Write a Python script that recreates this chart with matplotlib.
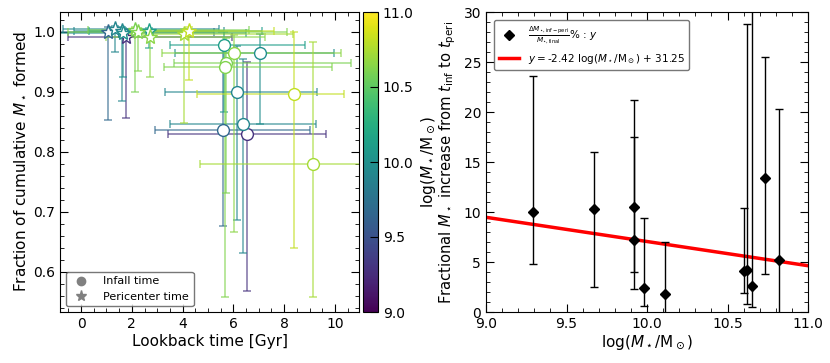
import numpy as np
import matplotlib
matplotlib.use("Agg")
import matplotlib.pyplot as plt
from matplotlib.lines import Line2D
from matplotlib.ticker import MultipleLocator

# ---------------- data ----------------
log_mass = [9.29, 9.67, 9.92, 9.92, 9.98, 10.11, 10.60, 10.62, 10.65, 10.73, 10.82]

# infall time (lookback Gyr) and cumulative fraction, with bounds
t_inf = [6.52, 5.60, 6.15, 6.38, 7.05, 5.65, 5.72, 5.68, 6.02, 9.13, 8.39]
t_inf_lo = [3.43, 2.92, 3.29, 3.52, 3.69, 3.52, 3.65, 3.28, 3.19, 4.68, 4.57]
t_inf_hi = [9.64, 9.03, 9.31, 9.25, 9.97, 8.83, 10.63, 9.87, 10.26, 11.6, 10.37]
f_inf = [0.830, 0.837, 0.8995, 0.847, 0.9655, 0.978, 0.948, 0.942, 0.9655, 0.780, 0.896]
f_inf_lo = [0.568, 0.677, 0.686, 0.632, 0.847, 0.867, 0.731, 0.558, 0.667, 0.558, 0.639]
f_inf_hi = [0.949, 0.975, 0.977, 0.955, 0.997, 0.999, 0.990, 0.985, 0.995, 0.983, 0.999]

# pericenter time and cumulative fraction, with bounds
t_peri = [1.78, 1.08, 1.32, 1.61, 1.66, 2.66, 2.13, 2.23, 2.70, 4.04, 4.24]
t_peri_lo = [-0.5, -0.83, -0.7, -0.28, -0.9, 0.3, 0.29, -0.5, 1.0, 1.5, 2.0]
t_peri_hi = [5.96, 5.23, 5.43, 5.62, 6.48, 7.14, 6.61, 8.13, 7.23, 8.36, 7.6]
f_peri = [0.991, 0.999, 1.005, 1.002, 0.998, 1.002, 1.003, 1.000, 0.991, 0.997, 1.002]
f_peri_lo = [0.856, 0.853, 0.967, 0.884, 0.925, 0.973, 0.900, 0.934, 0.925, 0.848, 0.920]
f_peri_hi = [1.005, 1.008, 1.010, 1.008, 1.006, 1.007, 1.008, 1.006, 1.000, 1.004, 1.008]

# right panel: fractional increase (%)
frac_inc = [10.03, 10.3, 10.53, 7.23, 2.37, 1.8, 4.13, 4.2, 2.63, 13.37, 5.23]
frac_lo = [4.77, 2.5, 3.97, 2.27, 0.6, -2.0, 1.93, 0.77, 0.5, 3.83, -1.0]
frac_hi = [23.6, 16.0, 21.2, 17.5, 9.37, 6.97, 10.37, 28.8, 32.0, 25.5, 20.3]

fit_slope = -2.42
fit_intercept = 31.25

# ---------------- figure ----------------
W, H = 830, 363
fig = plt.figure(figsize=(W / 100, H / 100), dpi=100)

def px_axes(x0, y0, x1, y1):
    return fig.add_axes([x0 / W, 1 - y1 / H, (x1 - x0) / W, (y1 - y0) / H])

ax1 = px_axes(60, 12, 359, 312)
cax = px_axes(363, 12, 378, 312)
ax2 = px_axes(486, 12, 808, 312)

cmap = plt.get_cmap("viridis")
norm = matplotlib.colors.Normalize(vmin=9.0, vmax=11.0)

def style_axes(ax):
    ax.tick_params(which="both", direction="in", top=True, right=True, labelsize=10)
    ax.tick_params(which="major", length=6)
    ax.tick_params(which="minor", length=3)

# ---- left panel ----
for i, m in enumerate(log_mass):
    c = cmap(norm(m))
    ec = (c[0], c[1], c[2], 0.7)
    ax1.errorbar(t_peri[i], f_peri[i],
                 xerr=[[t_peri[i] - t_peri_lo[i]], [t_peri_hi[i] - t_peri[i]]],
                 yerr=[[f_peri[i] - f_peri_lo[i]], [f_peri_hi[i] - f_peri[i]]],
                 fmt="none", ecolor=ec, elinewidth=1.1, capsize=3, capthick=1.1, zorder=2)
    ax1.errorbar(t_inf[i], f_inf[i],
                 xerr=[[t_inf[i] - t_inf_lo[i]], [t_inf_hi[i] - t_inf[i]]],
                 yerr=[[f_inf[i] - f_inf_lo[i]], [f_inf_hi[i] - f_inf[i]]],
                 fmt="none", ecolor=ec, elinewidth=1.1, capsize=3, capthick=1.1, zorder=2)

for i, m in enumerate(log_mass):
    c = cmap(norm(m))
    ax1.plot(t_peri[i], f_peri[i], marker="*", ms=11, mfc="white", mec=c, mew=1.0,
             linestyle="none", zorder=4)
    ax1.plot(t_inf[i], f_inf[i], marker="o", ms=8.5, mfc="white", mec=c, mew=1.0,
             linestyle="none", zorder=4)

ax1.set_xlim(-0.83, 10.95)
ax1.set_ylim(0.533, 1.033)
ax1.xaxis.set_major_locator(MultipleLocator(2))
ax1.xaxis.set_minor_locator(MultipleLocator(0.5))
ax1.yaxis.set_major_locator(MultipleLocator(0.1))
ax1.yaxis.set_minor_locator(MultipleLocator(0.02))
style_axes(ax1)
ax1.set_xlabel("Lookback time [Gyr]", fontsize=11, labelpad=2)
ax1.set_ylabel(r"Fraction of cumulative $M_\star$ formed", fontsize=11)

leg_handles = [
    Line2D([], [], marker="o", color="gray", linestyle="none", ms=6),
    Line2D([], [], marker="*", color="gray", linestyle="none", ms=8),
]
ax1.legend(leg_handles, ["Infall time", "Pericenter time"], loc="lower left",
           fontsize=8, frameon=True, edgecolor="#555555", fancybox=True,
           borderaxespad=0.5, handletextpad=1.0)

sm = matplotlib.cm.ScalarMappable(norm=norm, cmap=cmap)
cb = fig.colorbar(sm, cax=cax)
cb.set_ticks([9.0, 9.5, 10.0, 10.5, 11.0])
cb.ax.tick_params(direction="in", length=6, labelsize=10)
cb.set_label(r"log($M_\star$/M$_\odot$)", fontsize=11)

# ---- right panel ----
yerr = [np.array(frac_inc) - np.array(frac_lo), np.array(frac_hi) - np.array(frac_inc)]
eb = ax2.errorbar(log_mass, frac_inc, yerr=yerr, fmt="D", color="black", ms=5.5,
                  ecolor="black", elinewidth=1.0, capsize=3, capthick=1.0, zorder=3)
xfit = np.array([9.0, 11.0])
ln, = ax2.plot(xfit, fit_slope * xfit + fit_intercept, color="red", lw=2.5, zorder=2)
ax2.set_xlim(9.0, 11.0)
ax2.set_ylim(0, 30)
ax2.xaxis.set_major_locator(MultipleLocator(0.5))
ax2.xaxis.set_minor_locator(MultipleLocator(0.1))
ax2.yaxis.set_major_locator(MultipleLocator(5))
ax2.yaxis.set_minor_locator(MultipleLocator(1))
style_axes(ax2)
ax2.set_xlabel(r"log($M_\star$/M$_\odot$)", fontsize=11, labelpad=2)
ax2.set_ylabel(r"Fractional $M_\star$ increase from $t_{\rm inf}$ to $t_{\rm peri}$",
               fontsize=10.6)
diamond = Line2D([], [], marker="D", color="black", linestyle="none", ms=5.5)
ax2.legend([diamond, ln],
           [r"$\frac{\Delta M_{\star,\rm inf-peri}}{M_{\star,\rm final}}$% : $y$",
            r"$y = $-2.42 log($M_\star$/M$_\odot$) + 31.25"],
           loc="upper left", fontsize=7.5, frameon=True, edgecolor="#555555",
           borderaxespad=0.8)

fig.savefig("out.png", dpi=100)
